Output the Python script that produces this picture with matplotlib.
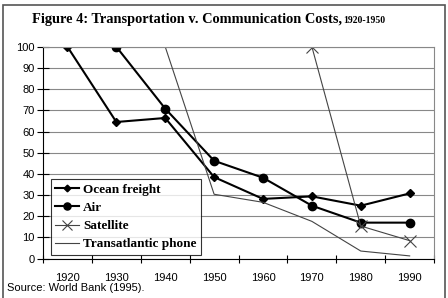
import matplotlib.pyplot as plt
import numpy as np
from matplotlib.patches import Rectangle

years = ["1920", "1930", "1940", "1950", "1960", "1970", "1980", "1990"]
ocean_freight = [100, 64.5, 66.4, 38.5, 28.2, 29.4, 25.0, 30.8]
air = [np.nan, 100, 70.8, 46.2, 38.2, 25.0, 17.0, 17.0]
satellite = [np.nan, np.nan, np.nan, np.nan, np.nan, 100, 15.4, 8.5]
phone = [np.nan, np.nan, 100, 30.4, 26.6, 17.6, 3.6, 1.3]

fig = plt.figure(figsize=(4.48, 2.98), dpi=100)
ax = fig.add_axes([0.096, 0.132, 0.873, 0.711])

x = np.arange(len(years))
ax.plot(x, ocean_freight, color="black", lw=1.5, marker="D", ms=4, label="Ocean freight")
ax.plot(x, air, color="black", lw=1.5, marker="o", ms=6, label="Air")
ax.plot(x, satellite, color="#444444", lw=0.8, marker="x", ms=8, mew=0.8, label="Satellite")
ax.plot(x, phone, color="#444444", lw=0.8, label="Transatlantic phone")

ax.set_xlim(-0.5, len(years) - 0.5)
ax.set_ylim(0, 100)
ax.set_yticks(range(0, 101, 10))
ax.set_xticks(x)
ax.set_xticklabels(years)
ax.set_xticks(np.arange(-0.5, len(years), 1), minor=True)
ax.tick_params(axis="x", which="major", length=0, pad=10)
ax.tick_params(axis="x", which="minor", direction="inout", length=6, width=0.8)
ax.tick_params(axis="y", direction="inout", length=8, width=0.8, pad=2)
ax.tick_params(labelsize=8)
for lbl in ax.get_xticklabels() + ax.get_yticklabels():
    lbl.set_fontfamily("Liberation Sans")

ax.yaxis.grid(True, color="#888888", lw=0.8)
ax.set_axisbelow(True)
ax.spines["left"].set_color("black")
ax.spines["bottom"].set_color("black")
ax.spines["right"].set_color("#888888")
ax.spines["top"].set_color("#888888")

leg = ax.legend(loc="lower left", bbox_to_anchor=(0.02, 0.017), frameon=True, fancybox=False,
                prop={"family": "Liberation Serif", "weight": "bold", "size": 9.5},
                handlelength=1.8, handletextpad=0.3, borderpad=0.35, labelspacing=0.45,
                borderaxespad=0, markerscale=0.85)
leg.get_frame().set_edgecolor("black")
leg.get_frame().set_linewidth(0.8)

fig.text(0.071, 0.935, "Figure 4: Transportation v. Communication Costs,", fontsize=10.4,
         fontweight="bold", family="Liberation Serif", va="center")
fig.text(0.766, 0.932, "1920-1950", fontsize=7, fontweight="bold",
         family="Liberation Serif", va="center")
fig.text(0.015, 0.035, "Source: World Bank (1995).", fontsize=8,
         family="Liberation Sans", va="center")

fig.add_artist(Rectangle((0.007, -0.01), 0.986, 0.993, transform=fig.transFigure,
                         fill=False, edgecolor="#555555", lw=1.2))

fig.savefig("out.png", dpi=100)
